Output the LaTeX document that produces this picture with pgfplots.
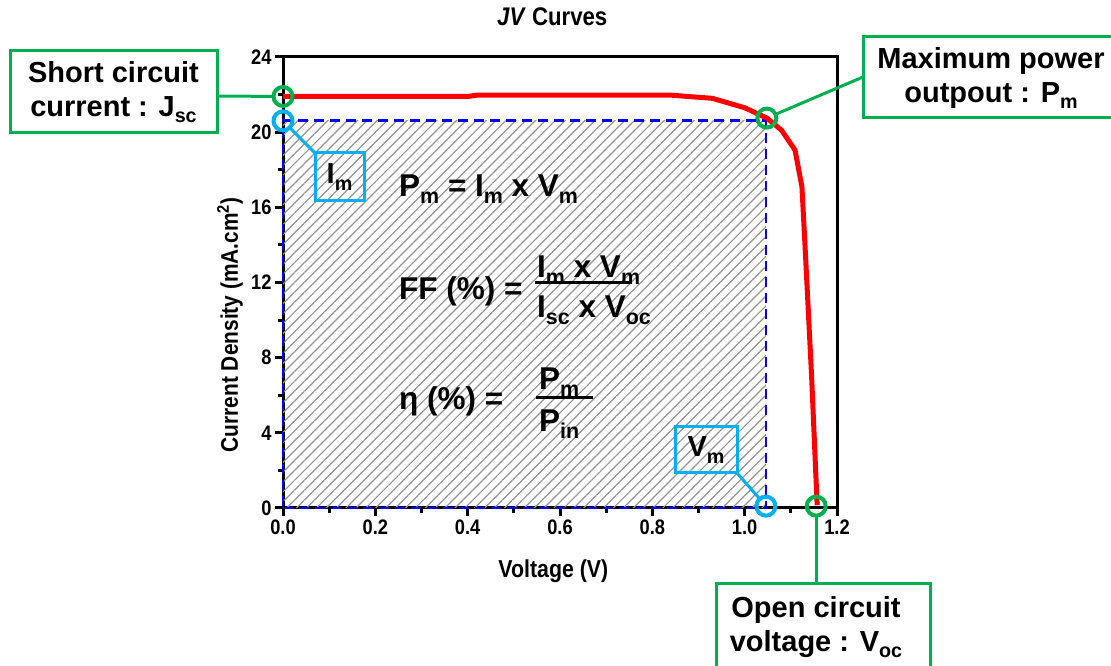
\documentclass[border=0pt]{standalone}
\usepackage{pgfplots}
\pgfplotsset{compat=1.18}
\usepackage{fontspec}
\setmainfont{Liberation Sans}
\newfontfamily\axfont[FakeStretch=0.87]{Liberation Sans}
\usetikzlibrary{patterns.meta}
\definecolor{cgreen}{RGB}{0,176,80}
\definecolor{cblue}{RGB}{0,176,240}
\newcommand\sub[1]{\raisebox{-0.22em}{\scalebox{0.68}{#1}}}
\begin{document}
\begin{tikzpicture}
\path[use as bounding box] (0,0) rectangle (1111pt,666pt);
\begin{axis}[
  at={(283pt,158pt)}, anchor=south west,
  scale only axis, width=554pt, height=451pt,
  xmin=0, xmax=1.2, ymin=0, ymax=24,
  xtick={0,0.2,0.4,0.6,0.8,1.0,1.2}, ytick={0,4,8,12,16,20,24},
  minor x tick num=1, minor y tick num=1,
  tick align=outside, xtick pos=bottom, ytick pos=left,
  major tick length=8pt, minor tick length=5pt,
  tick style={line width=3pt, black},
  axis line style={line width=3pt},
  clip=false,
  /pgf/number format/assume math mode=true,
  ticklabel style={font=\axfont\fontsize{21}{22}\selectfont\bfseries},
  xticklabel style={/pgf/number format/.cd, fixed, fixed zerofill, precision=1},
  xlabel={Voltage (V)},
  xlabel style={font=\axfont\fontsize{24.5}{26}\selectfont\bfseries, at={(axis description cs:0.488,0)}, anchor=center, yshift=-63pt},
  ylabel={Current Density (mA.cm\textsuperscript{2})},
  ylabel style={font=\axfont\fontsize{24}{26}\selectfont\bfseries, at={(axis description cs:0,0.406)}, anchor=center, yshift=53pt},
  title={\textit{JV} Curves},
  title style={font=\axfont\fontsize{25.5}{27}\selectfont\bfseries, at={(axis description cs:0.486,1)}, anchor=center, yshift=34pt},
]
% hatched area Pm = Im x Vm
\addplot[draw=blue, line width=2.8pt, dash pattern=on 10pt off 6pt,
  pattern={Lines[angle=45,distance=7pt,line width=1.2pt]}, pattern color=gray!85]
  coordinates {(0,0) (1.046,0) (1.046,20.6) (0,20.6) (0,0)};
% J-V curve
\addplot[red, line width=5pt, line join=round] coordinates {
  (0,21.9) (0.40,21.9) (0.42,21.97) (0.84,21.97) (0.93,21.8) (1.0,21.3)
  (1.048,20.75) (1.08,20.1) (1.109,19.05) (1.124,17.1) (1.13,14.3)
  (1.145,7.0) (1.157,0.15)};
% key points
\addplot[only marks, mark=o, mark size=9.5pt, mark options={line width=4pt, draw=cgreen}]
  coordinates {(0,21.9) (1.048,20.75) (1.155,0.1)};
\addplot[only marks, mark=o, mark size=9.5pt, mark options={line width=4pt, draw=cblue}]
  coordinates {(0,20.6) (1.046,0.1)};
\end{axis}
\begin{scope}[x=1pt,y=1pt]
% green callouts
\draw[cgreen, line width=3pt] (10,533) rectangle (217,615);
\draw[cgreen, line width=3pt, shorten >=9.5pt] (217,570) -- (283,569.5);
\node[font=\fontsize{29}{34}\selectfont\bfseries, align=center] at (113.5,574) {Short circuit\\current : J\sub{sc}};
\draw[cgreen, line width=3pt] (863,548) rectangle (1130,629);
\draw[cgreen, line width=3pt, shorten >=9.5pt] (863,589) -- (766.8,547.9);
\node[font=\fontsize{29}{34}\selectfont\bfseries, align=center] at (991,588) {Maximum power\\outpout : P\sub{m}};
\draw[cgreen, line width=3pt] (716,-20) rectangle (930,82);
\draw[cgreen, line width=3pt, shorten >=9.5pt] (816,82) -- (816,160);
\node[font=\fontsize{29}{34}\selectfont\bfseries, align=center] at (816,39) {Open circuit\\voltage : V\sub{oc}};
% blue callouts
\draw[cblue, line width=3pt] (315,465) rectangle (364,513);
\draw[cblue, line width=3pt, shorten >=9.5pt] (315,513) -- (283,545);
\node[font=\fontsize{29}{34}\selectfont\bfseries] at (339.5,489) {I\sub{m}};
\draw[cblue, line width=3pt] (675,193) rectangle (737,239);
\draw[cblue, line width=3pt, shorten >=9.5pt] (737,193) -- (766,160);
\node[font=\fontsize{29}{34}\selectfont\bfseries] at (706,216) {V\sub{m}};
% formulas
\begin{scope}[every node/.style={font=\fontsize{31.5}{34}\selectfont\bfseries, inner sep=0pt}]
\node[anchor=base west] at (399,469) {P\sub{m} = I\sub{m} x V\sub{m}};
\node[anchor=base west] at (399,366.5) {FF (\%) =};
\node[anchor=base west] at (537,388) {I\sub{m} x V\sub{m}};
\draw[line width=3pt] (535,383) -- (632,383);
\node[anchor=base west] at (537,348) {I\sub{sc} x V\sub{oc}};
\node[anchor=base west] at (399,256) {η (\%) =};
\node[anchor=base west] at (539,276) {P\sub{m}};
\draw[line width=3pt] (536,268) -- (593,268);
\node[anchor=base west] at (539,234) {P\sub{in}};
\end{scope}
\end{scope}
\end{tikzpicture}
\end{document}
